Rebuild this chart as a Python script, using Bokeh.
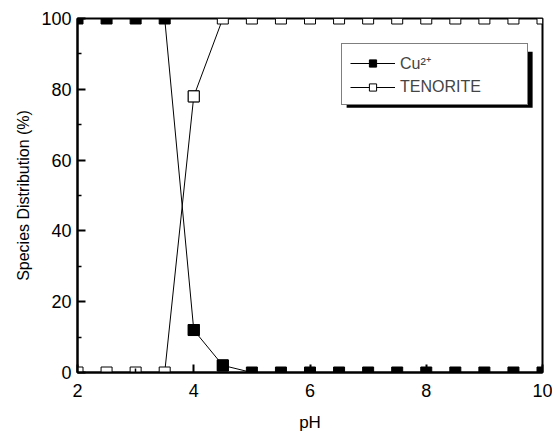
import numpy as np
from bokeh.plotting import figure
from bokeh.models import (ColumnDataSource, Legend, LegendItem, FixedTicker, Range1d,
                          CDSView, IndexFilter)
from bokeh.embed import file_html
from bokeh.resources import INLINE

ph = [2, 2.5, 3, 3.5, 4, 4.5, 5, 5.5, 6, 6.5, 7, 7.5, 8, 8.5, 9, 9.5, 10]
cu2 = [100, 100, 100, 100, 12, 2, 0, 0, 0, 0, 0, 0, 0, 0, 0, 0, 0]
tenorite = [0, 0, 0, 0, 78, 100, 100, 100, 100, 100, 100, 100, 100, 100, 100, 100, 100]
x_ticks = [2, 4, 6, 8, 10]
x_minor = [3, 5, 7, 9]
y_ticks = [0, 20, 40, 60, 80, 100]
y_minor = [10, 30, 50, 70, 90]

FONT = "Liberation Sans"
X0, X1, Y0, Y1 = 2, 10, 0, 100
W, H = 552, 436
BL, BR, BT, BB = 77, 10, 18, 64
MARK = 11  # marker size in px

frame_w = W - BL - BR
frame_h = H - BT - BB
dx = (MARK / 2) * (X1 - X0) / frame_w
dy = (MARK / 2) * (Y1 - Y0) / frame_h

p = figure(width=W, height=H, output_backend="svg", toolbar_location=None,
           x_range=Range1d(X0, X1), y_range=Range1d(Y0, Y1),
           min_border_left=BL, min_border_right=BR, min_border_top=BT, min_border_bottom=BB)
p.grid.visible = False
p.outline_line_color = "black"
p.outline_line_width = 2
p.background_fill_color = "white"
p.border_fill_color = "white"


def clipped_squares(xs, ys):
    x = np.array(xs, dtype=float)
    y = np.array(ys, dtype=float)
    return dict(left=np.maximum(x - dx, X0), right=np.minimum(x + dx, X1),
                bottom=np.maximum(y - dy, Y0), top=np.minimum(y + dy, Y1))


src = ColumnDataSource(dict(ph=ph, cu2=cu2, ten=tenorite))

# legend shadow (decoration, 5px offset)
p.quad(left=6.63, right=9.83, top=90.6, bottom=74.8, fill_color="black", line_color=None)

l1 = p.line("ph", "cu2", source=src, line_color="black", line_width=1)
l2 = p.line("ph", "ten", source=src, line_color="black", line_width=1)

p.quad(source=ColumnDataSource(clipped_squares(ph, cu2)), left="left", right="right",
       bottom="bottom", top="top", fill_color="black", line_color="black", line_width=1)
p.quad(source=ColumnDataSource(clipped_squares(ph, tenorite)), left="left", right="right",
       bottom="bottom", top="top", fill_color="white", line_color="black", line_width=1)

inner_cu = [i for i, v in enumerate(cu2) if Y0 < v < Y1]
inner_te = [i for i, v in enumerate(tenorite) if Y0 < v < Y1]
m1 = p.scatter("ph", "cu2", source=src, view=CDSView(filter=IndexFilter(inner_cu)),
               marker="square", size=MARK, fill_color="black", line_color="black", line_width=1)
m2 = p.scatter("ph", "ten", source=src, view=CDSView(filter=IndexFilter(inner_te)),
               marker="square", size=MARK, fill_color="white", line_color="black", line_width=1)

for ax in (p.xaxis[0], p.yaxis[0]):
    ax.major_tick_in = 8
    ax.major_tick_out = 0
    ax.minor_tick_in = 4
    ax.minor_tick_out = 0
    ax.axis_line_width = 2
    ax.major_tick_line_width = 2
    ax.minor_tick_line_width = 1.5
    ax.major_label_text_font = FONT
    ax.major_label_text_font_size = "18px"
    ax.major_label_text_color = "black"
    ax.axis_label_text_font = FONT
    ax.axis_label_text_font_size = "16px"
    ax.axis_label_text_font_style = "normal"
    ax.axis_label_text_color = "black"

p.xaxis[0].ticker = FixedTicker(ticks=x_ticks, minor_ticks=x_minor)
p.yaxis[0].ticker = FixedTicker(ticks=y_ticks, minor_ticks=y_minor)
p.xaxis[0].axis_label = "pH"
p.yaxis[0].axis_label = "Species Distribution (%)"
p.xaxis[0].major_label_standoff = 11
p.xaxis[0].axis_label_standoff = 13
p.xaxis[0].axis_label_text_font_size = "17px"
p.yaxis[0].major_label_standoff = 6
p.yaxis[0].axis_label_standoff = 6

legend = Legend(items=[LegendItem(label="Cu²⁺", renderers=[l1, m1]),
                       LegendItem(label="TENORITE", renderers=[l2, m2])],
                location=(264, 267), glyph_width=45, glyph_height=18,
                label_text_font=FONT, label_text_font_size="16px",
                label_standoff=5, spacing=4, padding=8,
                border_line_color="black", border_line_width=1.5,
                background_fill_color="white", background_fill_alpha=1.0,
                label_width=119)
p.add_layout(legend, "center")

open("out.html", "w").write(file_html(p, INLINE))
